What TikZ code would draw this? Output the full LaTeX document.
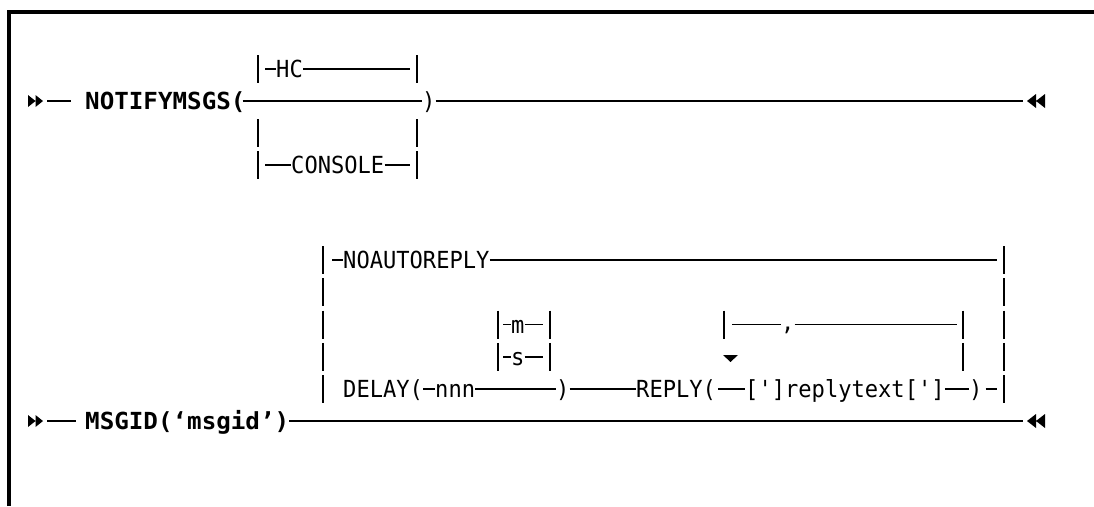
\documentclass[tikz,border=0pt]{standalone}
\usepackage{fontspec}
\usetikzlibrary{positioning}
\newfontfamily\synfont[FakeStretch=0.94]{DejaVu Sans Mono}
\newfontfamily\synkwfont[FakeStretch=1.03]{DejaVu Sans Mono}

\newcommand{\railstart}[1]{%
  \fill (#1) +(0,-6) -- +(7.5,0) -- +(0,6) -- cycle
        ([xshift=7.5pt]#1) +(0,-6) -- +(7.5,0) -- +(0,6) -- cycle;}
\newcommand{\railstop}[1]{%
  \fill (#1) +(0,0) -- +(9,-7) -- +(9,7) -- cycle
        ([xshift=9pt]#1) +(0,0) -- +(9,-7) -- +(9,7) -- cycle;}

\begin{document}
\begin{tikzpicture}[
  x=1pt, y=-1pt,
  txt/.style={anchor=base west, inner sep=0pt, font=\synfont\fontsize{23.5}{28}\selectfont},
  kw/.style={anchor=base west, inner sep=0pt, font=\synkwfont\bfseries\fontsize{23.5}{28}\selectfont},
  rail/.style={line width=1.8pt},
  bar/.style={line width=1.9pt},
  frame/.style={line width=3.2pt},
]
\useasboundingbox (0,0) rectangle (1094,506);
\draw[frame] (9,506) -- (9,12) -- (1094,12);

% NOTIFYMSGS
\coordinate (st1) at (28,101);
\coordinate (d1a) at (47,101);
\coordinate (d1b) at (71,101);
\coordinate (en1) at (1023,101);
\coordinate (sp1) at (1027,101);
\coordinate (hcl) at (265,69);
\coordinate (hcr) at (410,69);
\coordinate (conl) at (265,165);
\coordinate (conr) at (410,165);

\node[kw] (notify) at (85,109) {NOTIFYMSGS(};
\node[txt] (hc) at (276,77) {HC};
\node[txt] (console) at (291,173) {CONSOLE};
\node[txt] (close1) at (422,109) {)};

\railstart{st1}
\draw[rail] (d1a) -- (d1b);
\draw[rail] ([xshift=-3pt]notify.east |- d1a) -- (close1.west |- d1a);
\draw[rail] (close1.east |- d1a) -- (en1);
\railstop{sp1}
\draw[rail] (hcl) -- (hcl -| hc.west);
\draw[rail] (hcl -| hc.east) -- (hcr);
\draw[rail] (conl) -- (conl -| console.west);
\draw[rail] (conl -| console.east) -- (conr);
\foreach \bx in {258,417}
  \foreach \ry in {69,133,165}
    \draw[bar] (\bx,\ry-14) -- (\bx,\ry+14);

% MSGID
\coordinate (st2) at (28,421);
\coordinate (d2a) at (47,421);
\coordinate (d2b) at (76,421);
\coordinate (en2) at (1023,421);
\coordinate (sp2) at (1027,421);
\coordinate (nal) at (332,260);
\coordinate (nar) at (997,260);
\coordinate (dly) at (997,389);
\coordinate (mrow) at (503,324.5);
\coordinate (mend) at (543,324.5);
\coordinate (srow) at (503,357);
\coordinate (send) at (543,357);
\coordinate (cml) at (732,324.5);
\coordinate (cmr) at (957,324.5);
\coordinate (rep) at (730.5,355);

\node[kw] (msgid) at (85,429) {MSGID(‘msgid’)};
\node[txt] (noauto) at (343,268) {NOAUTOREPLY};
\node[txt] (delay) at (343,397) {DELAY(};
\node[txt] (nnn) at (435,397) {nnn};
\node[txt] (optm) at (511,333) {m};
\node[txt] (opts) at (511,365) {s};
\node[txt] (close2) at (556,397) {)};
\node[txt] (reply) at (636,397) {REPLY(};
\node[txt] (rtext) at (745,397) {[\char"27]replytext[\char"27]};
\node[txt] (close3) at (969,397) {)};
\node[txt] (comma) at (781,330) {,};

\railstart{st2}
\draw[rail] (d2a) -- (d2b);
\draw[rail] (msgid.east |- d2a) -- (en2);
\railstop{sp2}
\draw[rail] (nal) -- (nal -| noauto.west);
\draw[rail] (nal -| noauto.east) -- (nar);
\draw[rail] (dly -| delay.east) -- (dly -| nnn.west);
\draw[rail] (dly -| nnn.east) -- (dly -| close2.west);
\draw[rail] (dly -| close2.east) -- (dly -| reply.west);
\draw[rail] ([xshift=2pt]dly -| reply.east) -- (dly -| rtext.west);
\draw[rail] (dly -| rtext.east) -- (dly -| close3.west);
\draw[rail] ([xshift=3pt]dly -| close3.east) -- (dly);
\draw[rail] (mrow) -- (mrow -| optm.west);
\draw[rail] (mrow -| optm.east) -- (mend);
\draw[rail] (srow) -- (srow -| opts.west);
\draw[rail] (srow -| opts.east) -- (send);
\draw[rail] (cml) -- (cml -| comma.west);
\draw[rail] (cml -| comma.east) -- (cmr);
\fill (rep) +(-7.5,0) -- +(7.5,0) -- +(0,7) -- cycle;
\foreach \bx in {323,1004}
  \foreach \ry in {260,292.25,324.5,356.75,389}
    \draw[bar] (\bx,\ry-14) -- (\bx,\ry+14);
\foreach \bx in {498,550}
  \foreach \ry in {324.5,356.75}
    \draw[bar] (\bx,\ry-14) -- (\bx,\ry+14);
\draw[bar] (724,310.5) -- (724,338.5);
\foreach \ry in {324.5,356.75}
  \draw[bar] (963,\ry-14) -- (963,\ry+14);
\end{tikzpicture}
\end{document}
